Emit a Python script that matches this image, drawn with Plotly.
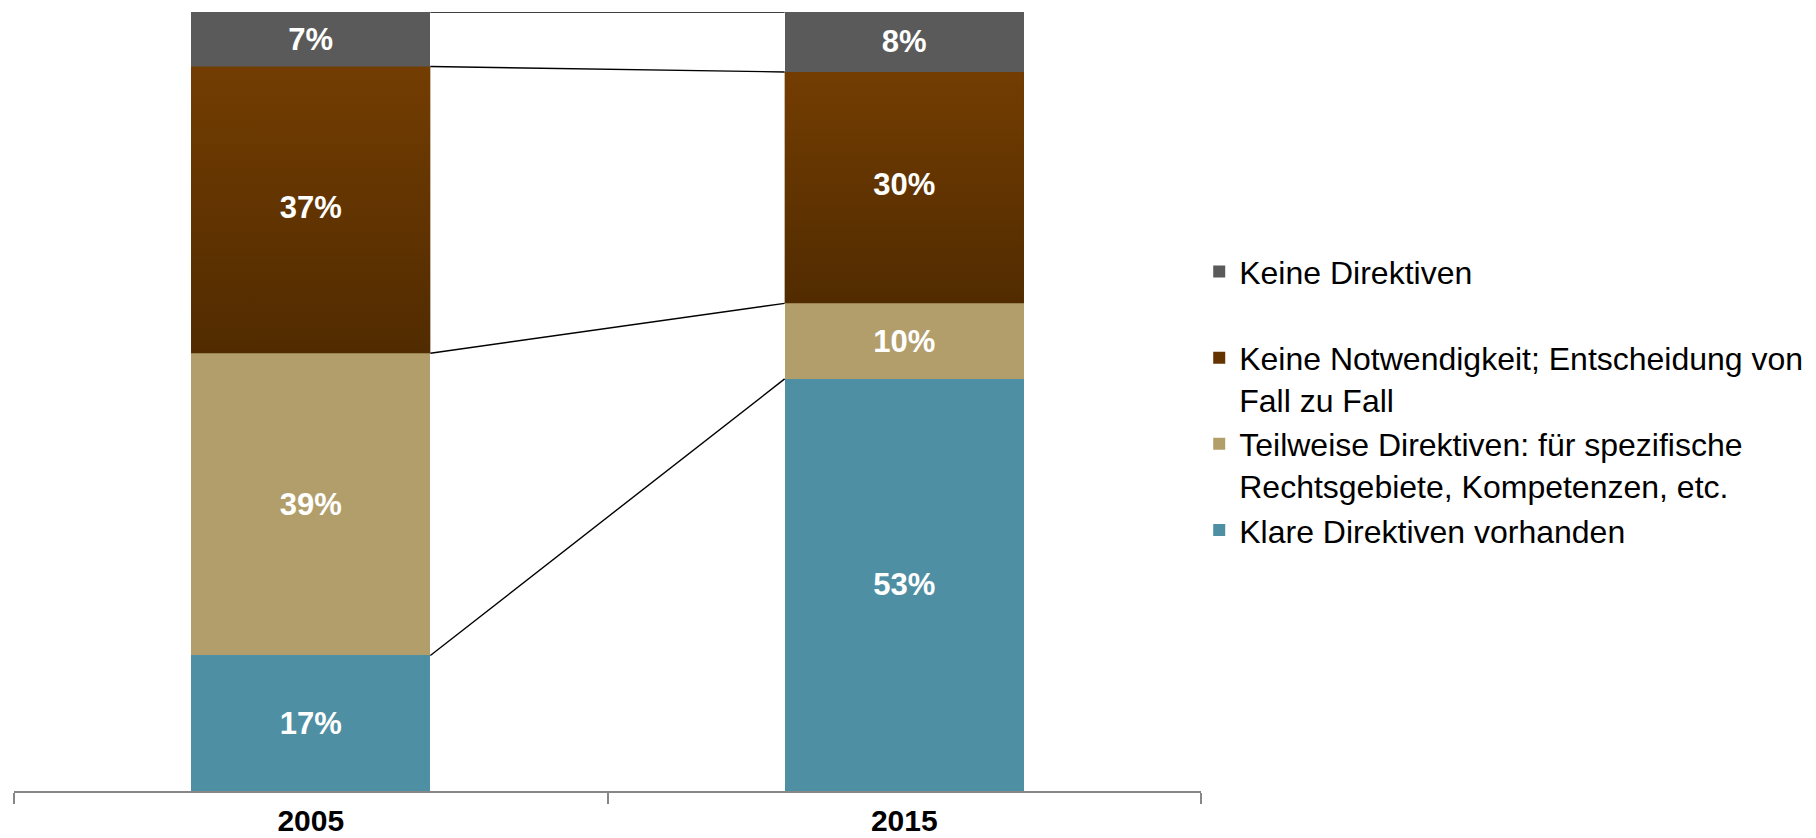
import plotly.graph_objects as go

# ---- data ----
categories = ["2005", "2015"]
series_names = [
    "Klare Direktiven vorhanden",
    "Teilweise Direktiven: für spezifische<br>Rechtsgebiete, Kompetenzen, etc.",
    "Keine Notwendigkeit; Entscheidung von<br>Fall zu Fall",
    "Keine Direktiven",
]
klare = [17.4, 52.9]
teilweise = [38.8, 9.7]
notwendigkeit = [36.8, 29.7]
keine = [7.0, 7.7]

colors = ["#4e8fa3", "#b29e6b", "#633400", "#5a5a5a"]
series = [klare, teilweise, notwendigkeit, keine]

xpos = list(range(len(categories)))
bar_w = 0.403
FONT = "Liberation Sans, Arial, sans-serif"

fig = go.Figure()

# stacked bars
for i, (name, vals, col) in enumerate(zip(series_names, series, colors)):
    legend_name = name if "<br>" in name else name + "<br> "
    is_brown = i == 2
    fig.add_trace(go.Bar(
        x=xpos, y=vals, name=legend_name, width=bar_w,
        marker=dict(color=col, line=dict(width=0)),
        text=None if is_brown else [f"{v:.0f}%" for v in vals],
        textposition="inside", insidetextanchor="middle",
        textfont=dict(family=FONT, size=31, color="white", weight="bold"),
        hoverinfo="skip",
    ))

# cumulative tops of each segment
cum = []
run = [0.0] * len(categories)
for vals in series:
    run = [r + v for r, v in zip(run, vals)]
    cum.append(run[:])

# gradient overlay for the brown segment
base = cum[1]
top = cum[2]
for j in xpos:
    x0, x1 = j - bar_w / 2, j + bar_w / 2
    fig.add_trace(go.Scatter(
        x=[x0, x1, x1, x0, x0], y=[base[j], base[j], top[j], top[j], base[j]],
        mode="lines", line=dict(width=0), fill="toself",
        fillgradient=dict(type="vertical",
                          colorscale=[[0, "#512b00"], [1, "#733d02"]]),
        showlegend=False, hoverinfo="skip",
    ))
# label for brown segment
fig.add_trace(go.Scatter(
    x=xpos, y=[(b + t) / 2 for b, t in zip(base, top)], mode="text",
    text=[f"{v:.0f}%" for v in notwendigkeit],
    textfont=dict(family=FONT, size=31, color="white", weight="bold"),
    showlegend=False, hoverinfo="skip",
))

# series connector lines
for level in cum:
    fig.add_trace(go.Scatter(
        x=[xpos[0] + bar_w / 2, xpos[1] - bar_w / 2], y=[level[0], level[1]],
        mode="lines", line=dict(color="black", width=1.4),
        showlegend=False, hoverinfo="skip",
    ))

fig.update_layout(
    barmode="stack",
    width=1816, height=838,
    margin=dict(l=14, r=615, t=12, b=47, autoexpand=False),
    paper_bgcolor="white", plot_bgcolor="white",
    font=dict(family=FONT, size=32, color="black"),
    showlegend=True,
    legend=dict(
        x=0.9985, xanchor="left", y=0.702, yanchor="top",
        traceorder="reversed", valign="top",
        font=dict(family=FONT, size=32, color="black"),
        itemclick=False, itemdoubleclick=False,
        tracegroupgap=0,
    ),
    xaxis=dict(
        range=[-0.5, 1.5], tickvals=xpos, ticktext=categories,
        ticks="", showgrid=False, zeroline=False, automargin=False,
        showline=True, linecolor="#878787", linewidth=2,
        tickfont=dict(family=FONT, size=30, color="black", weight="bold"),
        ticklabelstandoff=2,
        minor=dict(tickvals=[-0.5, 0.5, 1.5], ticks="outside", ticklen=11,
                   tickcolor="#878787", tickwidth=1.5, showgrid=False),
        fixedrange=True,
    ),
    yaxis=dict(range=[0, 100], visible=False, fixedrange=True, automargin=False),
)

fig.write_html(
    "out.html",
    config={"displayModeBar": False},
    post_script="document.body.style.margin='0';document.body.style.overflow='hidden';",
)
